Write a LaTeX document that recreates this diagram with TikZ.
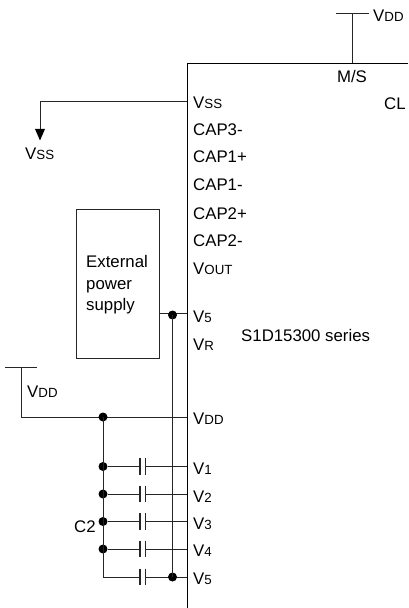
\documentclass[tikz,border=0pt]{standalone}
\usepackage{fontspec}
\setmainfont{Liberation Sans}
\usetikzlibrary{arrows.meta}
\newcommand{\pn}[2]{V{\fontsize{13.3bp}{15bp}\selectfont #2}}
\tikzset{
  wire/.style={draw=black!85,line width=1bp},
  lab/.style={inner sep=0pt,anchor=base west,font=\fontsize{16.8bp}{20bp}\selectfont,text=black},
  labc/.style={lab,anchor=base},
  dot/.style={circle,fill=black,inner sep=0pt,minimum size=9bp},
  plate/.style={draw=black!85,line width=1.1bp}
}
\newcommand{\capr}[3]{%
  \coordinate (pa#1) at (140,#2);
  \coordinate (pb#1) at (145.3,#2);
  \draw[wire] (#3) -- (pa#1);
  \draw[wire] (pb#1) -- (pin#1);
  \draw[plate] ([yshift=8.3bp]pa#1) -- ([yshift=-8.3bp]pa#1);
  \draw[plate] ([yshift=8.3bp]pb#1) -- ([yshift=-8.3bp]pb#1);
}
\begin{document}
\begin{tikzpicture}[x=1bp,y=-1bp]
\useasboundingbox (0,0) rectangle (408,608);
% chip outline
\coordinate (chiptr) at (408,63.5);
\coordinate (chiptl) at (187,63.5);
\coordinate (chipbl) at (187,608);
\draw[draw=black,line width=0.9bp] (chiptr) -- (chiptl) -- (chipbl);
% top VDD
\coordinate (tbl) at (336,14);
\coordinate (tbr) at (369,14);
\coordinate (tbm) at (352,14);
\coordinate (msin) at (352,63);
\draw[wire] (tbl) -- (tbr);
\draw[wire] (tbm) -- (msin);
\node[lab] (vddt) at (373,21.5) {\pn{V}{DD}};
\node[labc] (ms) at (352,83) {M/S};
\node[lab] (cl) at (384,110) {CL};
% VSS
\coordinate (vssp) at (187,102);
\coordinate (vssc) at (40,102);
\coordinate (vsse) at (40,140.5);
\coordinate (vssa) at (40,129);
\draw[wire] (vssp) -- (vssc) -- (vssa);
\fill[black] (35,129) -- (45,129) -- (vsse) -- cycle;
\node[lab] (vssl) at (25,160) {\pn{V}{SS}};
% pin labels
\node[lab] (lvss) at (193,109) {\pn{V}{SS}};
\node[lab] (lc3m) at (193,136) {CAP3-};
\node[lab] (lc1p) at (193,163) {CAP1+};
\node[lab] (lc1m) at (193,190.5) {CAP1-};
\node[lab] (lc2p) at (193,219) {CAP2+};
\node[lab] (lc2m) at (193,246) {CAP2-};
\node[lab] (lvout) at (193,274) {\pn{V}{OUT}};
\node[lab] (lv5a) at (193,322) {\pn{V}{5}};
\node[lab] (lvr) at (193,350) {\pn{V}{R}};
\node[lab] (lvdd) at (193,424) {\pn{V}{DD}};
\node[lab] (lv1) at (193,474) {\pn{V}{1}};
\node[lab] (lv2) at (193,502) {\pn{V}{2}};
\node[lab] (lv3) at (193,529) {\pn{V}{3}};
\node[lab] (lv4) at (193,556) {\pn{V}{4}};
\node[lab] (lv5b) at (193,584) {\pn{V}{5}};
\node[lab] (ser) at (241,341) {S1D15300 series};
% external supply
\node[draw=black!85,line width=1bp,minimum width=82.5bp,minimum height=149bp,inner sep=0pt] (ext) at (117.75,284) {};
\node[lab] (e1) at (86,267) {External};
\node[lab] (e2) at (86,289) {power};
\node[lab] (e3) at (86,310) {supply};
\coordinate (v5a) at (187,313);
\coordinate (extw) at (159,313);
\draw[wire] (extw) -- (v5a);
\node[dot] (d5a) at (172.5,315) {};
% left VDD
\coordinate (lbl) at (5,367);
\coordinate (lbr) at (37,367);
\coordinate (lbm) at (21,367);
\coordinate (lbc) at (21,417);
\coordinate (pinvdd) at (187,417);
\draw[wire] (lbl) -- (lbr);
\draw[wire] (lbm) -- (lbc) -- (pinvdd);
\node[lab] (vddl) at (27,397) {\pn{V}{DD}};
\node[dot] (dvdd) at (103,417) {};
% capacitor rows
\node[dot] (d1) at (103,466.5) {};
\node[dot] (d2) at (103,494) {};
\node[dot] (d3) at (103,521.5) {};
\node[dot] (d4) at (103,549) {};
\coordinate (c5) at (103,577);
\coordinate (pin1) at (187,466.5);
\coordinate (pin2) at (187,494);
\coordinate (pin3) at (187,521.5);
\coordinate (pin4) at (187,549);
\coordinate (pin5) at (187,577);
\draw[wire] (dvdd.center) -- (c5);
\capr{1}{466.5}{d1}
\capr{2}{494}{d2}
\capr{3}{521.5}{d3}
\capr{4}{549}{d4}
\capr{5}{577}{c5}
\node[dot] (d5b) at (172.5,577) {};
\draw[wire] (d5a.center) -- (d5b.center);
\node[lab] (c2) at (74,532) {C2};
\end{tikzpicture}
\end{document}
